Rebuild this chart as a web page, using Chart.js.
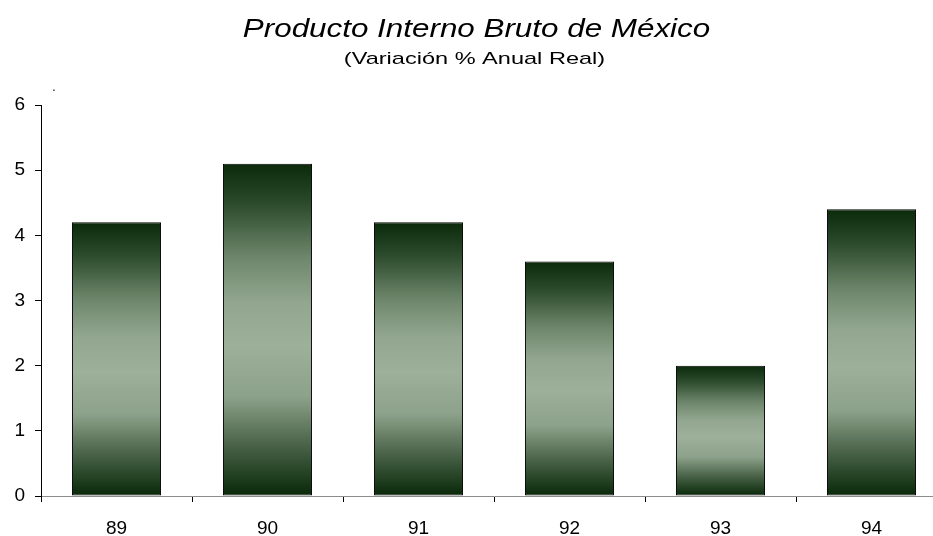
<!DOCTYPE html>
<html>
<head>
<meta charset="utf-8">
<script src="https://cdn.jsdelivr.net/npm/chart.js@4/dist/chart.umd.min.js"></script>
<style>
  html, body { margin: 0; padding: 0; background: #fff; overflow: hidden; }
  #wrap { width: 933px; height: 536px; overflow: hidden; position: relative; }
</style>
</head>
<body>
<div id="wrap"><canvas id="pib" width="960" height="536"></canvas></div>
<script>
// datos
const years = ['89', '90', '91', '92', '93', '94'];
const growth = [4.2, 5.1, 4.2, 3.6, 2.0, 4.4];
const yTicks = [0, 1, 2, 3, 4, 5, 6];
const title = 'Producto Interno Bruto de México';
const subtitle = '(Variación % Anual Real)';

const FONT = '"Liberation Sans", Arial, sans-serif';

// gradient per bar: dark at both ends, pale green in the middle
function barGradient(context) {
    const chart = context.chart;
    const { ctx, chartArea, scales } = chart;
    if (!chartArea || context.dataIndex === undefined) return '#6f876d';
    const top = scales.y.getPixelForValue(context.raw);
    const base = scales.y.getPixelForValue(0);
    const g = ctx.createLinearGradient(0, top, 0, base);
    g.addColorStop(0, '#0a2a0a');
    g.addColorStop(0.12, '#2c4a2c');
    g.addColorStop(0.28, '#6d866b');
    g.addColorStop(0.42, '#93a790');
    g.addColorStop(0.55, '#9db09a');
    g.addColorStop(0.70, '#8da28a');
    g.addColorStop(0.84, '#4c654b');
    g.addColorStop(1, '#082808');
    return g;
}

// the original titles are drawn a bit stretched sideways
function stretchedText(ctx, text, cx, y, sx) {
    ctx.save();
    ctx.translate(cx, y);
    ctx.scale(sx, 1);
    ctx.fillText(text, 0, 0);
    ctx.restore();
}

const titlesPlugin = {
    id: 'titles',
    afterDraw(chart) {
        const ctx = chart.ctx;
        ctx.save();
        ctx.fillStyle = '#000';
        ctx.textAlign = 'center';
        ctx.textBaseline = 'alphabetic';
        ctx.font = 'italic 25px ' + FONT;
        stretchedText(ctx, title, 476.5, 37, 1.255);
        ctx.font = '17px ' + FONT;
        stretchedText(ctx, subtitle, 474.5, 64, 1.385);
        ctx.font = '12px ' + FONT;
        ctx.fillText('.', 54, 91);
        ctx.restore();
    }
};

new Chart(document.getElementById('pib'), {
    type: 'bar',
    data: {
        labels: years,
        datasets: [{
            data: growth,
            backgroundColor: barGradient,
            borderColor: '#000',
            borderWidth: 1,
            borderSkipped: false,
            categoryPercentage: 1,
            barPercentage: 0.59
        }]
    },
    options: {
        responsive: false,
        animation: false,
        layout: { padding: { top: 105, right: 13, left: 0, bottom: 0 } },
        plugins: {
            legend: { display: false },
            tooltip: { enabled: false },
            title: { display: false }
        },
        scales: {
            x: {
                offset: true,
                grid: {
                    offset: true,
                    drawOnChartArea: false,
                    drawTicks: true,
                    tickLength: 6,
                    color: '#000'
                },
                border: { color: '#8c8c8c', width: 1 },
                ticks: {
                    color: '#000',
                    font: { family: FONT, size: 19 },
                    padding: 15
                },
                afterFit(scale) { scale.height = 40; }
            },
            y: {
                min: 0,
                max: 6,
                afterBuildTicks(scale) { scale.ticks = yTicks.map(v => ({ value: v })); },
                grid: {
                    drawOnChartArea: false,
                    drawTicks: true,
                    tickLength: 6,
                    color: '#000'
                },
                border: { color: '#000', width: 1 },
                ticks: {
                    color: '#000',
                    font: { family: FONT, size: 19 },
                    padding: 10
                },
                afterFit(scale) { scale.width = 41; }
            }
        }
    },
    plugins: [titlesPlugin]
});
</script>
</body>
</html>
